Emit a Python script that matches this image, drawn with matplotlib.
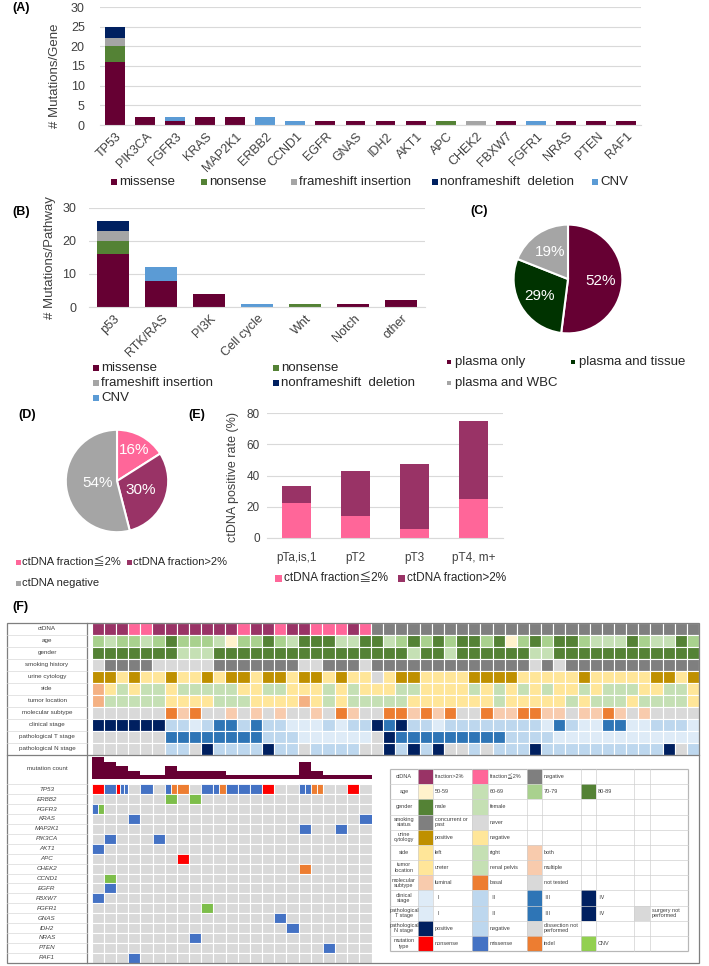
import numpy as np
import matplotlib
matplotlib.use("Agg")
from matplotlib import pyplot as plt
from matplotlib.patches import Rectangle
from matplotlib.transforms import ScaledTranslation

W, H = 709, 966
plt.rcParams["font.family"] = ["Liberation Sans", "Noto Sans CJK JP", "DejaVu Sans"]

# ---------------- data ----------------
mut_types = ["missense", "nonsense", "frameshift insertion", "nonframeshift  deletion", "CNV"]
mut_colors = ["#660033", "#548235", "#A5A5A5", "#002060", "#5B9BD5"]

# (A) mutations per gene
genes = ["TP53", "PIK3CA", "FGFR3", "KRAS", "MAP2K1", "ERBB2", "CCND1", "EGFR", "GNAS",
         "IDH2", "AKT1", "APC", "CHEK2", "FBXW7", "FGFR1", "NRAS", "PTEN", "RAF1"]
gene_missense = [16, 2, 1, 2, 2, 0, 0, 1, 1, 1, 1, 0, 0, 1, 0, 1, 1, 1]
gene_nonsense = [4, 0, 0, 0, 0, 0, 0, 0, 0, 0, 0, 1, 0, 0, 0, 0, 0, 0]
gene_frameshift = [2, 0, 0, 0, 0, 0, 0, 0, 0, 0, 0, 0, 1, 0, 0, 0, 0, 0]
gene_nonframeshift = [3, 0, 0, 0, 0, 0, 0, 0, 0, 0, 0, 0, 0, 0, 0, 0, 0, 0]
gene_cnv = [0, 0, 1, 0, 0, 2, 1, 0, 0, 0, 0, 0, 0, 0, 1, 0, 0, 0]

# (B) mutations per pathway
pathways = ["p53", "RTK/RAS", "PI3K", "Cell cycle", "Wnt", "Notch", "other"]
pw_missense = [16, 8, 4, 0, 0, 1, 2]
pw_nonsense = [4, 0, 0, 0, 1, 0, 0]
pw_frameshift = [3, 0, 0, 0, 0, 0, 0]
pw_nonframeshift = [3, 0, 0, 0, 0, 0, 0]
pw_cnv = [0, 4, 0, 1, 0, 0, 0]

# (C) origin of variants
origin_labels = ["plasma only", "plasma and tissue", "plasma and WBC"]
origin_pct = [52, 29, 19]
origin_colors = ["#660033", "#003300", "#A5A5A5"]

# (D) ctDNA status
ctdna_labels = ["ctDNA fraction\u22662%", "ctDNA fraction>2%", "ctDNA negative"]
ctdna_pct = [16, 30, 54]
ctdna_colors = ["#FF6699", "#993366", "#A5A5A5"]

# (E) positive rate by stage
stages = ["pTa,is,1", "pT2", "pT3", "pT4, m+"]
rate_low = [22.2, 14.3, 5.9, 25.0]
rate_high = [11.1, 28.6, 41.2, 50.0]

# (F) clinical heatmap, one character per patient
ctdna_row = "HHHLLHHHHHHHLHHLHHLLLHL" + "N" * 27
age_row = "2122123222" "1022321333" "1133123232" "3323023233" "2111321132"
gender_row = "MMMMMMMFFF" "MMMMMMMMMM" "MMMMMMFMMF" "MMMMMMFFMM" "MMMMMMMMMM"
smoking_row = "NPPPPNNNNN" "PPPPPPPNNP" "PPNPPPPPPP" "PPPPPPNPNP" "PPPPPPPPPP"
urine_row = "PPNPNNPNNP" "NPPNPPNPPN" "PNNXNPPNNN" "NPPPPNNNNN" "PNNNNNPPNP"
side_row = "BLRLRRLRRR" "RRLLRRLLLR" "LRLLLRRLLL" "LRLRLRLRLL" "RLRRRLLRRL"
location_row = "MPPPPPUUUU" "PPPUUUUMUP" "UPPPPPUUUU" "UUUPUUUUUP" "UPPPUPPPPU"
subtype_row = "NNNNNNBLBN" "NLNLNLNNLN" "BLNNBBLBLB" "NNBLLBBLLN" "LLBLNLNNNN"
cstage_row = "4444442212" "3323221112" "1224342212" "2222222132" "1133112221"
tstage_row = "0000003333" "3333222111" "1110433333" "3333222211" "1111111111"
nstage_row = "XXXXXXNNXP" "NNNNPNNXNN" "NNXXPNPNPX" "XNXNNNPNNN" "NNNNNNNPXN"

ctdna_map = {"H": "#993366", "L": "#FF6699", "N": "#7F7F7F"}
age_map = {"0": "#FFF2CC", "1": "#C5E0B4", "2": "#A9D18E", "3": "#548235"}
gender_map = {"M": "#548235", "F": "#C5E0B4"}
smoking_map = {"P": "#7F7F7F", "N": "#D9D9D9"}
urine_map = {"P": "#BF9000", "N": "#FFE699", "X": "#D9D9D9"}
side_map = {"L": "#FFE699", "R": "#C5E0B4", "B": "#F4B183"}
location_map = {"U": "#FFE699", "P": "#C5E0B4", "M": "#F4B183"}
subtype_map = {"L": "#F8CBAD", "B": "#ED7D31", "N": "#D9D9D9"}
stage_map = {"1": "#DEEBF7", "2": "#BDD7EE", "3": "#2E75B6", "4": "#002060", "0": "#D9D9D9"}
nstage_map = {"P": "#002060", "N": "#BDD7EE", "X": "#D9D9D9"}

clin_labels = ["ctDNA", "age", "gender", "smoking history", "urine cytology", "side",
               "tumor location", "molecular subtype", "clinical stage",
               "pathological T stage", "pathological N stage"]
clin_rows = [(ctdna_row, ctdna_map), (age_row, age_map), (gender_row, gender_map),
             (smoking_row, smoking_map), (urine_row, urine_map), (side_row, side_map),
             (location_row, location_map), (subtype_row, subtype_map),
             (cstage_row, stage_map), (tstage_row, stage_map), (nstage_row, nstage_map)]

# (F) mutations of the ctDNA positive patients: S nonsense, M missense, I indel, C CNV
mut_genes = ["TP53", "ERBB2", "FGFR3", "KRAS", "MAP2K1", "PIK3CA", "AKT1", "APC", "CHEK2",
             "CCND1", "EGFR", "FBXW7", "FGFR1", "GNAS", "IDH2", "NRAS", "PTEN", "RAF1"]
mutations = {
    "TP53": {0: "S", 1: "M", 2: "SMM", 4: "M", 6: "MI", 7: "I", 9: "M", 10: "MI", 11: "M",
             12: "M", 13: "M", 14: "S", 17: "MM", 18: "II", 21: "S"},
    "ERBB2": {6: "C", 8: "C"},
    "FGFR3": {0: "MC"},
    "KRAS": {3: "M", 22: "M"},
    "MAP2K1": {17: "M", 20: "M"},
    "PIK3CA": {1: "M", 5: "M"},
    "AKT1": {0: "M"},
    "APC": {7: "S"},
    "CHEK2": {17: "I"},
    "CCND1": {1: "C"},
    "EGFR": {1: "M"},
    "FBXW7": {0: "M"},
    "FGFR1": {9: "C"},
    "GNAS": {15: "M"},
    "IDH2": {16: "M"},
    "NRAS": {8: "M"},
    "PTEN": {19: "M"},
    "RAF1": {3: "M"},
}
n_mut_patients = 23
mut_type_map = {"S": "#FF0000", "M": "#4472C4", "I": "#ED7D31", "C": "#7DBE4A"}

legend_rows = [
    ("ctDNA", [("#993366", "fraction>2%"), ("#FF6699", "fraction\u22662%"), ("#7F7F7F", "negative")]),
    ("age", [("#FFF2CC", "50-59"), ("#C5E0B4", "60-69"), ("#A9D18E", "70-79"), ("#548235", "80-89")]),
    ("gender", [("#548235", "male"), ("#C5E0B4", "female")]),
    ("smoking\nstatus", [("#7F7F7F", "concurrent or\npast"), ("#D9D9D9", "never")]),
    ("urine\ncytology", [("#BF9000", "positive"), ("#FFE699", "negative")]),
    ("side", [("#FFE699", "left"), ("#C5E0B4", "right"), ("#F8CBAD", "both")]),
    ("tumor\nlocation", [("#FFE699", "ureter"), ("#C5E0B4", "renal pelvis"), ("#F8CBAD", "multiple")]),
    ("molecular\nsubtype", [("#F8CBAD", "luminal"), ("#ED7D31", "basal"), ("#D9D9D9", "not tested")]),
    ("clinical\nstage", [("#DEEBF7", "\u2160"), ("#BDD7EE", "\u2161"), ("#2E75B6", "\u2162"), ("#002060", "\u2163")]),
    ("pathological\nT stage", [("#DEEBF7", "\u2160"), ("#BDD7EE", "\u2161"), ("#2E75B6", "\u2162"),
                               ("#002060", "\u2163"), ("#D9D9D9", "surgery not\nperformed")]),
    ("pathological\nN stage", [("#002060", "positive"), ("#BDD7EE", "negative"), ("#D9D9D9", "dissection not\nperformed")]),
    ("mutation\ntype", [("#FF0000", "nonsense"), ("#4472C4", "missense"), ("#ED7D31", "indel"), ("#92D050", "CNV")]),
]

fig = plt.figure(figsize=(W / 100, H / 100), dpi=100)


def px_axes(x0, y0, x1, y1):
    ax = fig.add_axes([x0 / W, 1 - y1 / H, (x1 - x0) / W, (y1 - y0) / H])
    ax.set_facecolor("none")
    return ax


def shift_xlabels(ax, dx):
    off = ScaledTranslation(dx / 100, 0, fig.dpi_scale_trans)
    for lab in ax.get_xticklabels():
        lab.set_transform(lab.get_transform() + off)


def style_bar_axes(ax, ymax, step, fs, pad):
    ax.set_ylim(0, ymax)
    ax.set_yticks(np.arange(0, ymax + 1, step))
    ax.grid(axis="y", color="#D9D9D9", lw=0.8)
    ax.set_axisbelow(True)
    for s in ["top", "right", "left"]:
        ax.spines[s].set_visible(False)
    ax.spines["bottom"].set_color("#D9D9D9")
    ax.tick_params(length=0, labelsize=fs, colors="#404040", pad=pad)


def stacked(ax, cats, series, width):
    x = np.arange(len(cats))
    bottom = np.zeros(len(cats))
    for vals, col in zip(series, mut_colors):
        ax.bar(x, vals, width, bottom=bottom, color=col)
        bottom += np.array(vals)
    ax.set_xlim(-0.5, len(cats) - 0.5)
    ax.set_xticks(x)


# (A)
axA = px_axes(100, 7, 641, 125)
stacked(axA, genes, [gene_missense, gene_nonsense, gene_frameshift, gene_nonframeshift, gene_cnv], 0.66)
style_bar_axes(axA, 30, 5, 9, 11)
axA.set_xticklabels(genes, rotation=45, ha="right", va="center", rotation_mode="anchor")
axA.tick_params(axis="x", pad=7)
shift_xlabels(axA, 5)

# (B)
axB = px_axes(89, 208, 425, 307)
stacked(axB, pathways, [pw_missense, pw_nonsense, pw_frameshift, pw_nonframeshift, pw_cnv], 0.66)
style_bar_axes(axB, 30, 10, 9, 9)
axB.set_xticklabels(pathways, rotation=45, ha="right", va="center", rotation_mode="anchor")
axB.tick_params(axis="x", pad=7)
shift_xlabels(axB, 5)

# (C)
axC = px_axes(500, 211, 636, 347)
wedges, _, autos = axC.pie(origin_pct, colors=origin_colors, startangle=90, counterclock=False,
                           autopct="%d%%", pctdistance=0.6,
                           wedgeprops=dict(edgecolor="white", linewidth=1.5),
                           textprops=dict(color="white", fontsize=11))
axC.set_aspect("equal")

# (D)
axD = px_axes(53, 417, 181, 545)
wedges, _, autos = axD.pie(ctdna_pct, colors=ctdna_colors, startangle=90, counterclock=False,
                           autopct="%d%%", wedgeprops=dict(edgecolor="white", linewidth=1.5),
                           textprops=dict(color="white", fontsize=11))
for t, w, r in zip(autos, wedges, [0.68, 0.5, 0.38]):
    a = np.deg2rad((w.theta1 + w.theta2) / 2)
    t.set_position((r * np.cos(a), r * np.sin(a)))
axD.set_aspect("equal")

# (E)
axE = px_axes(267, 413, 503, 538)
xe = np.arange(len(stages))
axE.bar(xe, rate_low, 0.5, color="#FF6699")
axE.bar(xe, rate_high, 0.5, bottom=rate_low, color="#993366")
axE.set_xlim(-0.5, len(stages) - 0.5)
axE.set_xticks(xe)
axE.set_xticklabels(stages)
style_bar_axes(axE, 80, 20, 8.5, 5)
axE.tick_params(axis="x", pad=10)

# (F) clinical heatmap
axF = px_axes(91.7, 623, 699, 754.7)
for i, (vals, cmap) in enumerate(clin_rows):
    for j, v in enumerate(vals):
        axF.add_patch(Rectangle((j, i), 1, 1, fc=cmap[v], ec="white", lw=0.8))
axF.set_xlim(0, len(ctdna_row))
axF.set_ylim(len(clin_rows), 0)
axF.axis("off")

# (F) mutation count
counts = [sum(len(mutations[g].get(j, "")) for g in mut_genes) for j in range(n_mut_patients)]
axM = px_axes(91.7, 757.3, 371.6, 779.3)
axM.bar(np.arange(n_mut_patients) + 0.5, counts, 1.0, color="#660033")
axM.set_xlim(0, n_mut_patients)
axM.set_ylim(0, max(counts))
axM.axis("off")

# (F) oncoprint
axO = px_axes(91.7, 784.3, 371.6, 962.7)
for i, g in enumerate(mut_genes):
    for j in range(n_mut_patients):
        axO.add_patch(Rectangle((j, i), 1, 1, fc="#D9D9D9", ec="white", lw=0.8))
        kinds = mutations[g].get(j, "")
        for k, c in enumerate(kinds):
            w = 1 / len(kinds)
            axO.add_patch(Rectangle((j + k * w, i), w, 1, fc=mut_type_map[c], ec="white", lw=0.6))
axO.set_xlim(0, n_mut_patients)
axO.set_ylim(len(mut_genes), 0)
axO.axis("off")

# overlay for labels, legends and table lines (pixel coordinates)
ov = px_axes(0, 0, W, H)
ov.set_xlim(0, W)
ov.set_ylim(H, 0)
ov.axis("off")


def sq(x, y, s, color):
    ov.add_patch(Rectangle((x, y - s / 2), s, s, color=color, lw=0))


for lab, (x, y) in zip(["(A)", "(B)", "(C)", "(D)", "(E)", "(F)"],
                       [(12, 8), (12, 212), (470, 211), (18, 415), (188, 415), (12, 607)]):
    ov.text(x, y, lab, fontsize=9, fontweight="bold", va="center")

ov.text(55, 76, "# Mutations/Gene", rotation=90, fontsize=9.5, ha="center", va="center", color="#404040")
ov.text(50, 258, "# Mutations/Pathway", rotation=90, fontsize=9.5, ha="center", va="center", color="#404040")
ov.text(233, 477, "ctDNA positive rate (%)", rotation=90, fontsize=9, ha="center", va="center", color="#404040")

# legend A
for name, col, x in zip(mut_types, mut_colors, [111, 201, 291, 432, 592]):
    sq(x, 182, 5.5, col)
    ov.text(x + 8, 182, name, fontsize=9.5, va="center", color="#262626")
# legend B
for name, col, (x, y) in zip(mut_types, mut_colors, [(93, 368), (273, 368), (93, 383), (273, 383), (93, 398)]):
    sq(x, y, 5.5, col)
    ov.text(x + 8, y, name, fontsize=9.5, va="center", color="#262626")
# legend C
for name, col, (x, y) in zip(origin_labels, origin_colors, [(447, 362), (571, 362), (447, 383)]):
    sq(x, y, 4, col)
    ov.text(x + 8, y, name, fontsize=9.5, va="center", color="#262626")
# legend D
for name, col, (x, y) in zip(ctdna_labels, ctdna_colors, [(16, 562), (127, 562), (16, 583)]):
    sq(x, y, 5, col)
    ov.text(x + 6, y, name, fontsize=8, va="center", color="#262626")
# legend E
for name, col, x in zip(ctdna_labels[:2], ctdna_colors[:2], [275, 398]):
    sq(x, 578, 7, col)
    ov.text(x + 9, 578, name, fontsize=8.5, va="center", color="#262626")

# frame of F
frame = "#7F7F7F"
ov.add_patch(Rectangle((7, 623), 692, 340, fill=False, ec=frame, lw=0.9))
ov.plot([87, 87], [623, 963], color=frame, lw=0.9)
ov.plot([7, 699], [754.7, 754.7], color=frame, lw=0.9)
row_h = (754.7 - 623) / len(clin_labels)
for i, lab in enumerate(clin_labels):
    yc = 623 + row_h * (i + 0.5)
    ov.text(47, yc, lab, fontsize=4.5, ha="center", va="center", color="#404040")
    if i > 0:
        ov.plot([7, 87], [623 + row_h * i] * 2, color="#D9D9D9", lw=0.5)
ov.text(47, 769, "mutation count", fontsize=4.5, ha="center", va="center", color="#404040")
gene_h = (962.7 - 784.3) / len(mut_genes)
for i, g in enumerate(mut_genes):
    ov.plot([7, 87], [784.3 + gene_h * i] * 2, color="#D9D9D9", lw=0.5)
    ov.text(47, 784.3 + gene_h * (i + 0.5), g, fontsize=4.5, style="italic",
            ha="center", va="center", color="#404040")

# legend table of F
cols = [390, 418, 433, 472, 488, 527, 542, 581, 596, 634, 650, 688]
top, bot = 769, 951
rh = (bot - top) / len(legend_rows)
for i, (lab, entries) in enumerate(legend_rows):
    y0 = top + rh * i
    ov.text((cols[0] + cols[1]) / 2, y0 + rh / 2, lab, fontsize=4, ha="center", va="center",
            linespacing=1.1, color="#404040")
    for k, (col, txt) in enumerate(entries):
        ov.add_patch(Rectangle((cols[1 + 2 * k], y0), cols[2 + 2 * k] - cols[1 + 2 * k], rh, color=col, lw=0))
        ov.text(cols[2 + 2 * k] + 2, y0 + rh / 2, txt, fontsize=4, va="center", linespacing=1.1, color="#404040")
for i in range(len(legend_rows) + 1):
    ov.plot([cols[0], cols[-1]], [top + rh * i] * 2, color="#D0D0D0", lw=0.5)
for c in cols:
    ov.plot([c, c], [top, bot], color="#D0D0D0", lw=0.5)
ov.add_patch(Rectangle((cols[0], top), cols[-1] - cols[0], bot - top, fill=False, ec=frame, lw=0.8))

fig.savefig("out.png", dpi=100)
